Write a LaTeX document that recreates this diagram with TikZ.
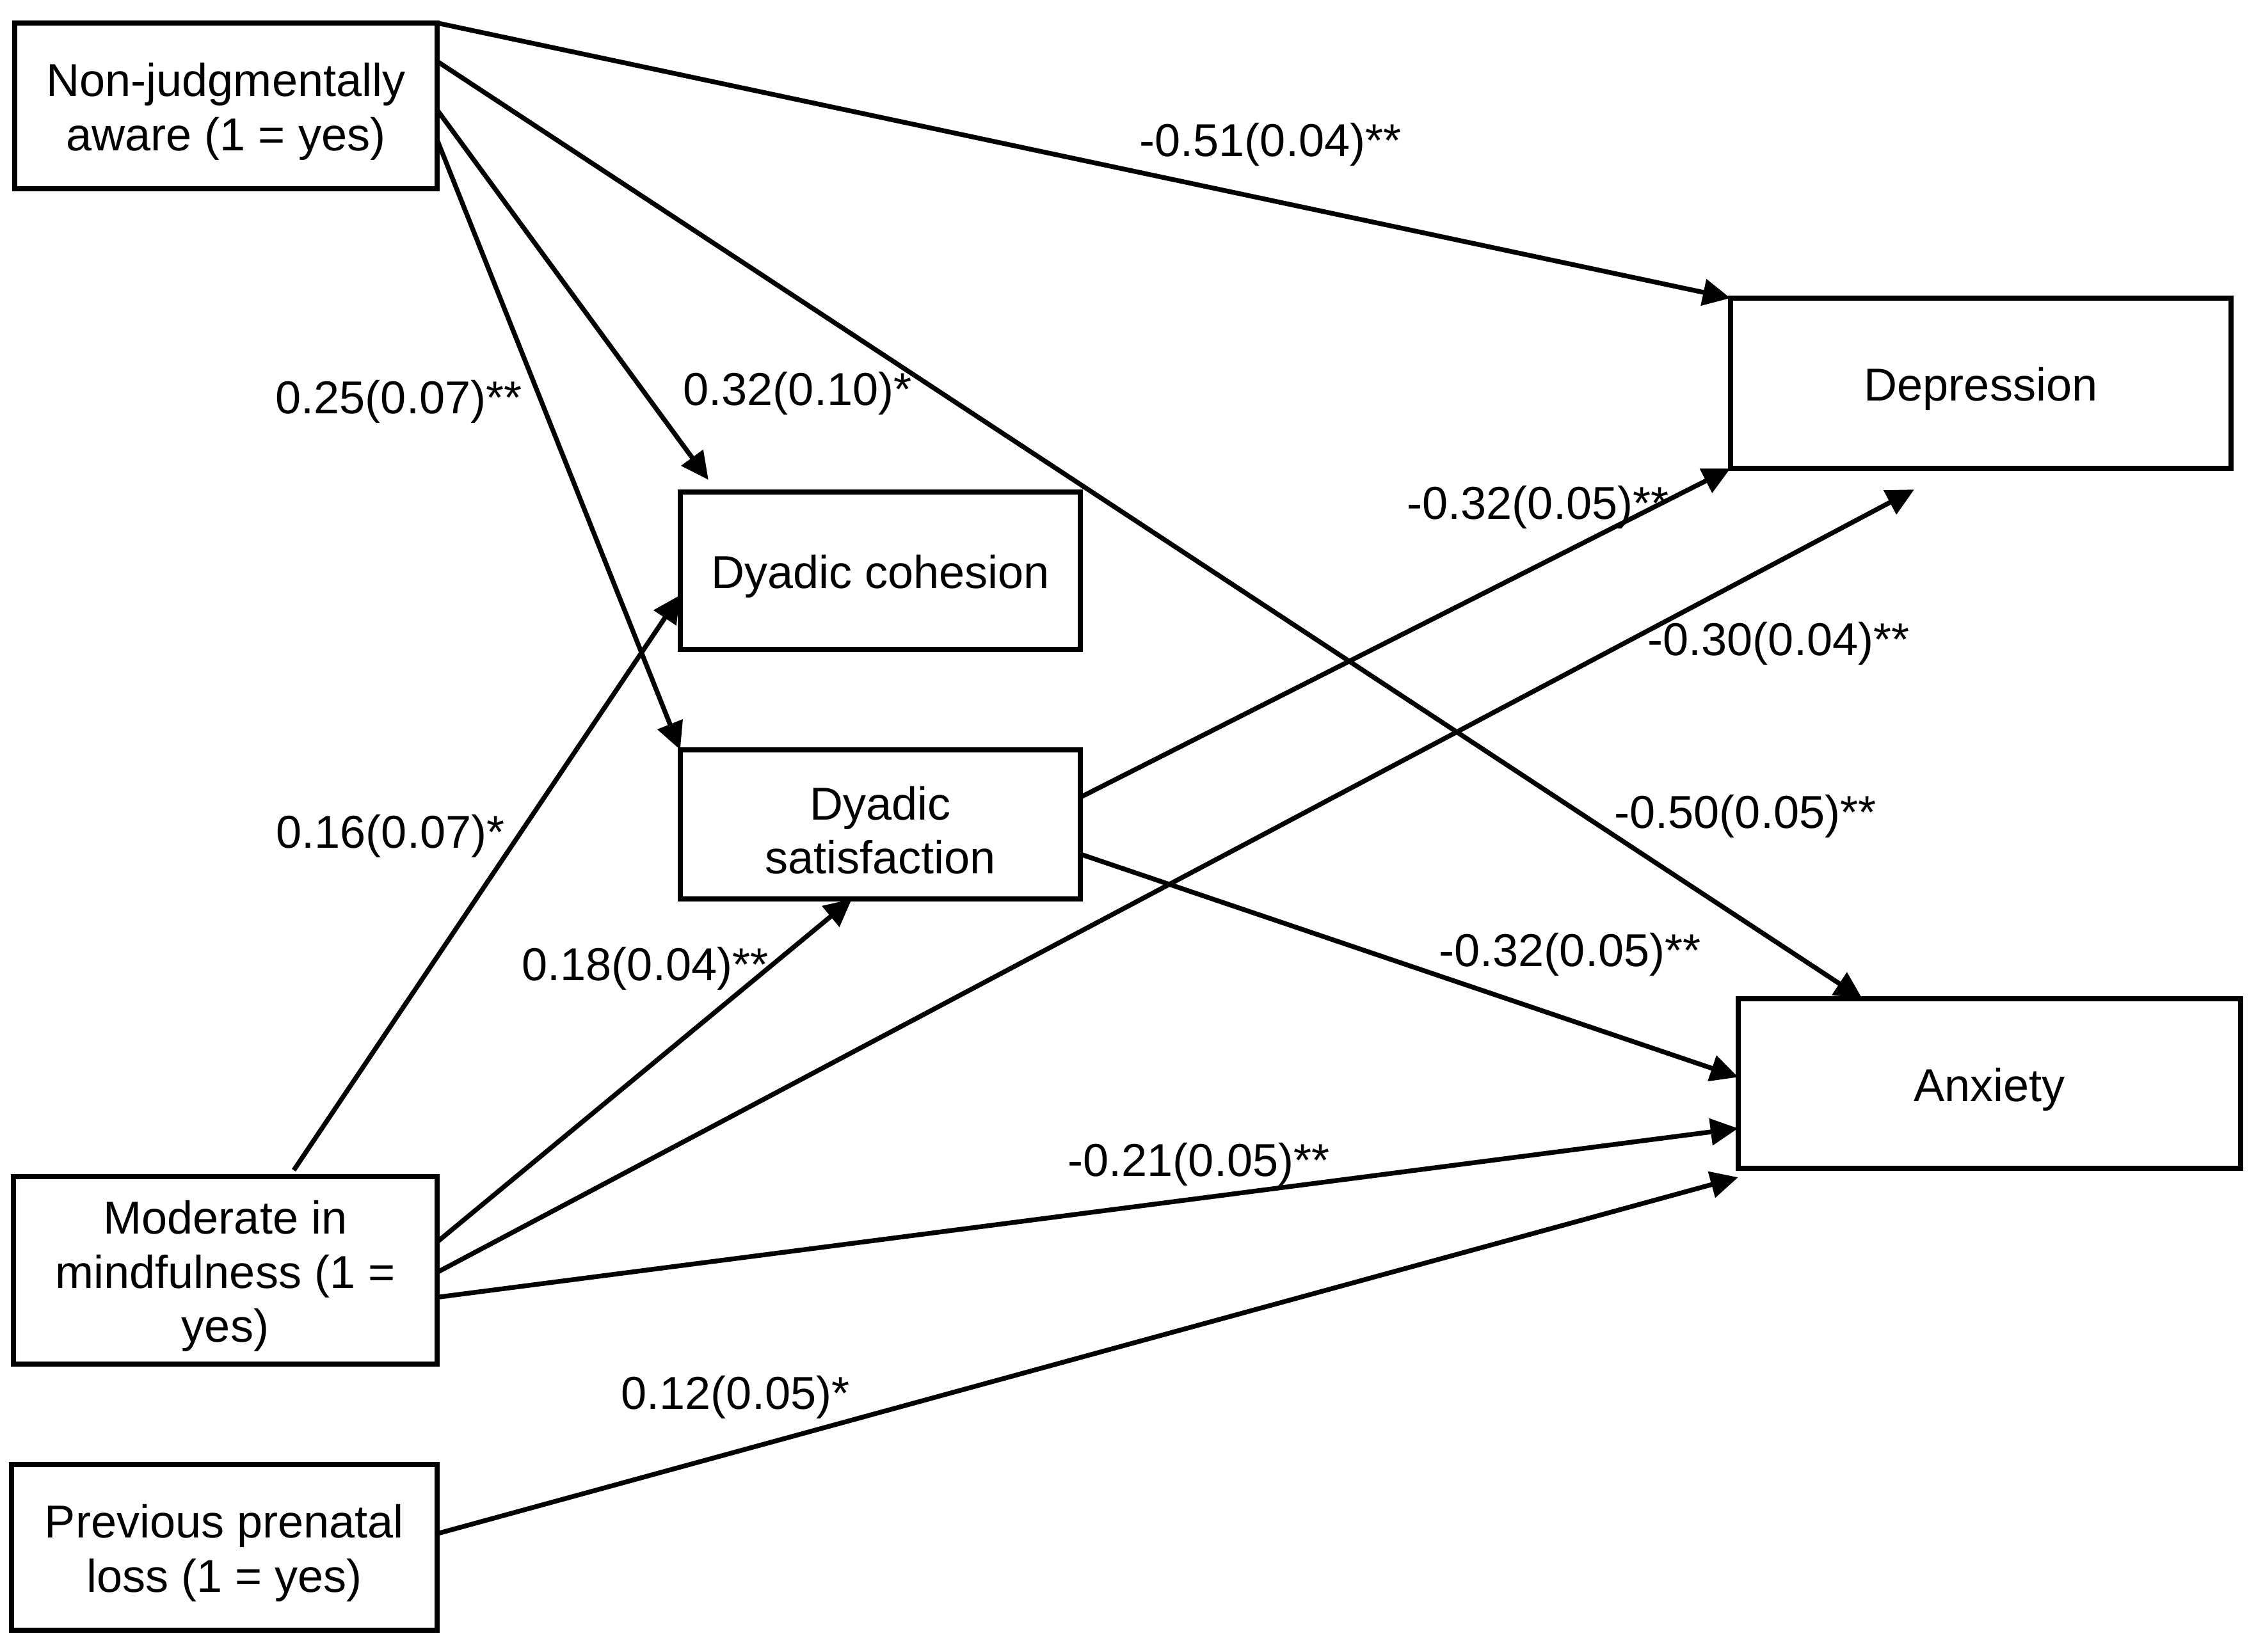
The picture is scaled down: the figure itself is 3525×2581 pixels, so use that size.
\documentclass[tikz,border=0pt]{standalone}
\usepackage{fontspec}
\setmainfont{Liberation Sans}
\usetikzlibrary{arrows.meta,calc}
\begin{document}
\begin{tikzpicture}[x=0.01cm,y=-0.01cm,
 font=\fontsize{20.5pt}{24pt}\selectfont,
 box/.style={draw,line width=2.2pt,inner sep=0pt,outer sep=0pt},
 boxtext/.style={align=center,inner sep=0pt,yshift=-0.09cm},
 arr/.style={line width=2.1pt,-{Triangle[length=0.43cm,width=0.41cm]}},
 lab/.style={inner sep=0pt}]
\useasboundingbox[fill=white] (0,0) rectangle (3525,2581);

% boxes
\node[box,minimum width=6.60cm,minimum height=2.59cm,label={[boxtext]center:{Non-judgmentally\\aware (1 = yes)}}] (nj) at (353,165.5) {};
\node[box,minimum width=6.25cm,minimum height=2.46cm,label={[boxtext]center:{Dyadic cohesion}}] (coh) at (1375.5,892) {};
\node[box,minimum width=6.25cm,minimum height=2.33cm,label={[boxtext]center:{Dyadic\\satisfaction}}] (sat) at (1375.5,1288.5) {};
\node[box,minimum width=7.82cm,minimum height=2.66cm,label={[boxtext]center:{Depression}}] (dep) at (3095,599) {};
\node[box,minimum width=7.85cm,minimum height=2.65cm,label={[boxtext]center:{Anxiety}}] (anx) at (3108.5,1693.5) {};
\node[box,minimum width=6.62cm,minimum height=2.93cm,label={[boxtext]center:{Moderate in\\mindfulness (1 =\\yes)}}] (mod) at (352,1985.5) {};
\node[box,minimum width=6.65cm,minimum height=2.59cm,label={[boxtext]center:{Previous prenatal\\loss (1 = yes)}}] (prev) at (350.5,2418.5) {};

% connectors
\draw[arr] (nj.north east) -- (dep.north west);
\draw[arr] ([yshift=-0.6cm]nj.north east) -- ([xshift=1.94cm]anx.north west);
\draw[arr] ([yshift=-1.36cm]nj.north east) -- ([xshift=0.44cm,yshift=0.19cm]coh.north west);
\draw[arr] ([yshift=-1.83cm]nj.north east) -- (sat.north west);
\draw[arr] ([xshift=4.38cm,yshift=0.1cm]mod.north west) -- ([yshift=-0.38cm]coh.west);
\draw[arr] ([yshift=0.445cm]mod.east) -- ([xshift=2.68cm]sat.south west);
\draw[arr] ([yshift=-0.03cm]mod.east) -- ([xshift=2.87cm,yshift=-0.33cm]dep.south west);
\draw[arr] ([yshift=-0.42cm]mod.east) -- ([yshift=-0.7cm]anx.west);
\draw[arr] ([yshift=0.215cm]prev.east) -- ([yshift=-0.14cm]anx.south west);
\draw[arr] ([yshift=0.425cm]sat.east) -- (dep.south west);
\draw[arr] ([yshift=-0.465cm]sat.east) -- ([yshift=0.1cm]anx.west);

% labels
\node[lab] (l1) at (1985,226) {-0.51(0.04)**};
\node[lab] (l2) at (623,628) {0.25(0.07)**};
\node[lab] (l3) at (1246,615) {0.32(0.10)*};
\node[lab] (l4) at (2403,793) {-0.32(0.05)**};
\node[lab] (l5) at (2779,1006) {-0.30(0.04)**};
\node[lab] (l6) at (2727,1276) {-0.50(0.05)**};
\node[lab] (l7) at (610,1307) {0.16(0.07)*};
\node[lab] (l8) at (1008,1514) {0.18(0.04)**};
\node[lab] (l9) at (2453,1492) {-0.32(0.05)**};
\node[lab] (l10) at (1873,1820) {-0.21(0.05)**};
\node[lab] (l11) at (1149,2184) {0.12(0.05)*};
\end{tikzpicture}
\end{document}
